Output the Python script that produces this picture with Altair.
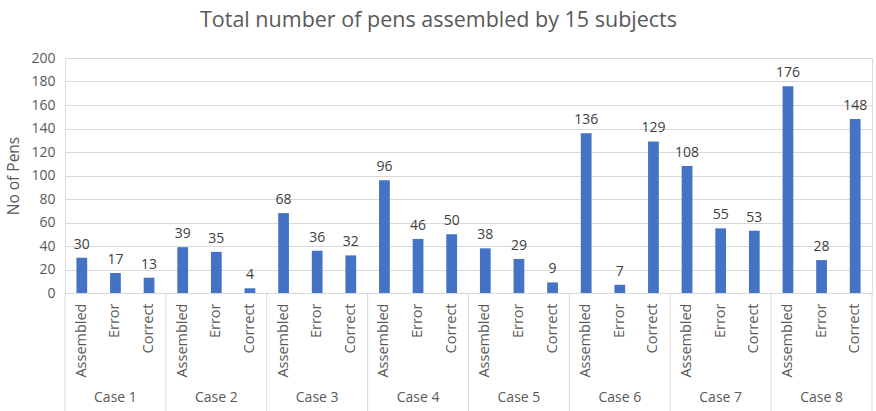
import altair as alt
import pandas as pd

cases = ["Case 1", "Case 2", "Case 3", "Case 4", "Case 5", "Case 6", "Case 7", "Case 8"]
metrics = ["Assembled", "Error", "Correct"]
assembled = [30, 39, 68, 96, 38, 136, 108, 176]
error = [17, 35, 36, 46, 29, 7, 55, 28]
correct = [13, 4, 32, 50, 9, 129, 53, 148]
y_ticks = [0, 20, 40, 60, 80, 100, 120, 140, 160, 180, 200]

rows = []
for i, c in enumerate(cases):
    for m, v in zip(metrics, [assembled[i], error[i], correct[i]]):
        rows.append({"case": c, "metric": m, "key": f"{c}|{m}", "value": v})
df = pd.DataFrame(rows)
order = list(df["key"])

FONT = "Open Sans"
GRAY = "#595959"
W, H = 807, 235

xscale = alt.Scale(domain=order, paddingInner=0, paddingOuter=0)
xaxis = alt.Axis(
    title=None, labelAngle=-90, labelExpr="split(datum.label, '|')[1]",
    labelFont=FONT, labelFontSize=14.5, labelColor=GRAY, labelPadding=10,
    ticks=False, domainColor="#d9d9d9", grid=False, labelAlign="right", labelBaseline="middle",
    labelOverlap=False,
)
yscale = alt.Scale(domain=[0, 200])
yaxis = alt.Axis(title="No of Pens", values=y_ticks, tickCount=11,
                 labelFont=FONT, labelFontSize=14, labelColor=GRAY, labelOverlap=False,
                 titleFont=FONT, titleFontSize=15.5, titleColor=GRAY,
                 titleFontWeight="normal", titlePadding=9,
                 gridColor="#d9d9d9", domain=False, ticks=False, labelPadding=10)

base = alt.Chart(df)

bars = base.mark_bar(color="#4472C4", width={"band": 0.32}).encode(
    x=alt.X("key:N", scale=xscale, axis=xaxis, sort=order),
    y=alt.Y("value:Q", scale=yscale, axis=yaxis),
)

labels = base.mark_text(font=FONT, fontSize=14, color="#404040", baseline="bottom", dy=-6).encode(
    x=alt.X("key:N", scale=xscale, axis=xaxis, sort=order),
    y=alt.Y("value:Q", scale=yscale, axis=yaxis),
    text="value:Q",
)

seps = base.transform_filter(alt.datum.metric == "Assembled").mark_rule(color="#d9d9d9", strokeWidth=1).encode(
    x=alt.X("key:N", scale=xscale, axis=xaxis, sort=order, bandPosition=0),
    y=alt.value(H), y2=alt.value(H + 120),
)
sep_end = base.transform_filter(alt.datum.key == order[-1]).mark_rule(color="#d9d9d9", strokeWidth=1).encode(
    x=alt.X("key:N", scale=xscale, axis=xaxis, sort=order, bandPosition=1),
    y=alt.value(H), y2=alt.value(H + 120),
)

case_labels = base.transform_filter(alt.datum.metric == "Error").mark_text(
    font=FONT, fontSize=14, color=GRAY, baseline="middle").encode(
    x=alt.X("key:N", scale=xscale, axis=xaxis, sort=order),
    y=alt.value(H + 105),
    text="case:N",
)

chart = alt.layer(bars, labels, seps, sep_end, case_labels).properties(
    width=W, height=H,
    title=alt.TitleParams("Total number of pens assembled by 15 subjects", font=FONT, fontSize=21.5,
                          color=GRAY, fontWeight="normal", anchor="middle", dx=-30, offset=20),
    autosize=alt.AutoSizeParams(type="none"),
    padding={"left": 65, "top": 58, "right": 4, "bottom": 118},
).configure_view(stroke=None).configure(background="white")

chart.save("out.html", embed_options={"renderer": "svg", "actions": False})
